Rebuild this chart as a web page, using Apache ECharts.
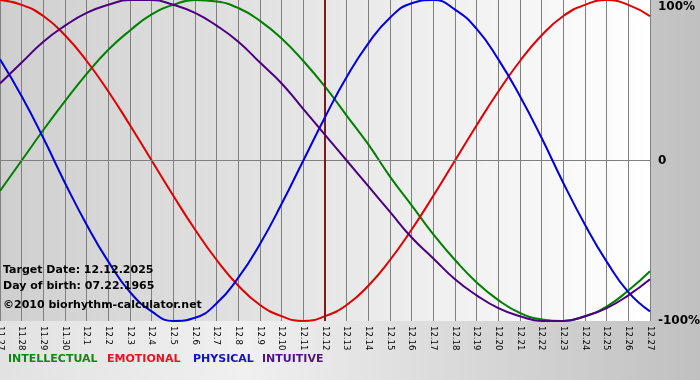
<!DOCTYPE html>
<html><head><meta charset="utf-8">
<script src="https://cdn.jsdelivr.net/npm/echarts@6/dist/echarts.min.js"></script>
<style>html,body{margin:0;padding:0;}#c{width:700px;height:380px;}</style>
</head><body><div id="c"></div>
<script>
var categories = ['11.27','11.28','11.29','11.30','12.1','12.2','12.3','12.4','12.5','12.6','12.7','12.8','12.9','12.10','12.11','12.12','12.13','12.14','12.15','12.16','12.17','12.18','12.19','12.20','12.21','12.22','12.23','12.24','12.25','12.26','12.27'];
var physical = [0.63,0.40,0.14,-0.14,-0.40,-0.63,-0.82,-0.94,-1.00,-0.98,-0.89,-0.73,-0.52,-0.27,0,0.27,0.52,0.73,0.89,0.98,1.00,0.94,0.82,0.63,0.40,0.14,-0.14,-0.40,-0.63,-0.82,-0.94];
var emotional = [1.00,0.97,0.90,0.78,0.62,0.43,0.22,0,-0.22,-0.43,-0.62,-0.78,-0.90,-0.97,-1.00,-0.97,-0.90,-0.78,-0.62,-0.43,-0.22,0,0.22,0.43,0.62,0.78,0.90,0.97,1.00,0.97,0.90];
var intellectual = [-0.19,0,0.19,0.37,0.54,0.69,0.81,0.91,0.97,1.00,0.99,0.95,0.87,0.76,0.62,0.46,0.28,0.10,-0.10,-0.28,-0.46,-0.62,-0.76,-0.87,-0.95,-0.99,-1.00,-0.97,-0.91,-0.81,-0.69];
var intuitive = [0.48,0.61,0.74,0.84,0.92,0.97,1.00,1.00,0.97,0.92,0.84,0.74,0.61,0.48,0.32,0.16,0,-0.16,-0.32,-0.48,-0.61,-0.74,-0.84,-0.92,-0.97,-1.00,-1.00,-0.97,-0.92,-0.84,-0.74];
var yTickLabels = {'1':'100%','0':'0','-1':'-100%'};
var targetDay = '12.12';
var infoLines = ['Target Date: 12.12.2025','Day of birth: 07.22.1965','\u00a92010 biorhythm-calculator.net'];
var legendNames = ['INTELLECTUAL','EMOTIONAL','PHYSICAL','INTUITIVE'];

var chart = echarts.init(document.getElementById('c'));
var FONT = 'bold 11px "DejaVu Sans"';
function line(name, data, color, z) {
  return {name:name, type:'line', data:data, smooth:0.5, symbol:'none', z:z,
    lineStyle:{color:color, width:2}, itemStyle:{color:color}};
}
var s = [
  line('INTELLECTUAL', intellectual, '#008000', 3),
  line('EMOTIONAL', emotional, '#e00000', 4),
  line('PHYSICAL', physical, '#0000e0', 5),
  line('INTUITIVE', intuitive, '#4b0082', 6)
];
s[0].markLine = {silent:true, symbol:'none', label:{show:false}, animation:false,
  data:[{yAxis:0, lineStyle:{color:'#808080', width:1, type:'solid'}},
        {xAxis:targetDay, lineStyle:{color:'#7a1a1a', width:2, type:'solid'}}]};
var legendX = [8, 107, 193, 262];
var legendColors = ['#118811','#ee1122','#1111cc','#551188'];
var graphics = [
  {type:'text',left:3,top:265,z:100,style:{text:infoLines[0],font:FONT,fill:'#000'}},
  {type:'text',left:3,top:281,z:100,style:{text:infoLines[1],font:FONT,fill:'#000'}},
  {type:'text',left:3,top:300,z:100,style:{text:infoLines[2],font:FONT,fill:'#000'}}
];
legendNames.forEach(function(n,i){
  graphics.push({type:'text',left:legendX[i],top:354,z:100,style:{text:n,font:FONT,fill:legendColors[i]}});
});
chart.setOption({
  animation:false,
  backgroundColor:{type:'linear',x:0,y:0,x2:1,y2:0,colorStops:[{offset:0,color:'#e2e2e2'},{offset:0.35,color:'#f0f0f0'},{offset:1,color:'#c0c0c0'}]},
  grid:{left:0,right:50,top:0,bottom:59,show:true,borderWidth:0,outerBoundsMode:'none',containLabel:false,
    backgroundColor:{type:'linear',x:0,y:0,x2:1,y2:0,colorStops:[{offset:0,color:'#cfcfcf'},{offset:1,color:'#ffffff'}]}},
  xAxis:{type:'category',data:categories,boundaryGap:false,
    axisLine:{show:true,lineStyle:{color:'#808080',width:1}},
    axisTick:{show:true,length:5,lineStyle:{color:'#808080'}},
    splitLine:{show:true,lineStyle:{color:'#808080',width:1}},
    axisLabel:{rotate:-90,interval:0,color:'#000',fontFamily:'DejaVu Sans',fontSize:8.5,margin:5}},
  yAxis:{type:'value',min:-1,max:1,interval:1,position:'right',
    axisLine:{show:false},axisTick:{show:false},splitLine:{show:false},
    axisLabel:{color:'#000',fontFamily:'DejaVu Sans',fontWeight:'bold',fontSize:12,margin:8,
      formatter:function(v){var t=yTickLabels[String(v)]; return v===1?'{t|'+t+'}':t;},
      rich:{t:{padding:[13,0,0,0],fontFamily:'DejaVu Sans',fontWeight:'bold',fontSize:12,color:'#000'}}}},
  series:s,
  graphic:graphics
});
</script></body></html>
